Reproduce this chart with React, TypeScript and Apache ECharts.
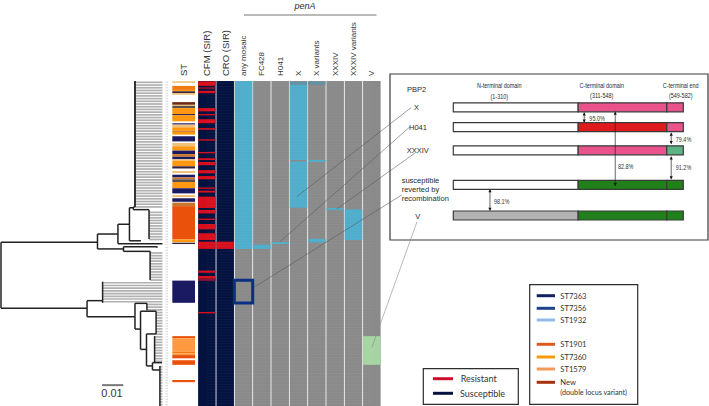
import React, { useEffect, useRef } from "react";
import * as echarts from "echarts";

const SANS = '"Liberation Sans", Arial, sans-serif';
const ROWS = 120;

// ---- Tree (distance, row)
const treeBranches = [
  [0, 0.0453, 59.5], [0, 0.0404, 83.9], [0.0453, 0.0549, 56.5], [0.0453, 0.0575, 62],
  [0.0549, 0.0603, 52.9], [0.0549, 0.0758, 60.1], [0.0603, 0.0657, 59], [0.0603, 0.0621, 46.8],
  [0.0621, 0.0629, 46.5], [0.0621, 0.0695, 47.5], [0.0575, 0.0732, 61.2], [0.0575, 0.07, 62.9],
  [0.0404, 0.0477, 81.1], [0.0404, 0.0629, 87], [0.0629, 0.0685, 82.1], [0.0629, 0.0655, 91.6],
  [0.0655, 0.0728, 85], [0.0655, 0.0683, 99.1], [0.0683, 0.0728, 93.4], [0.0683, 0.0711, 105.2],
  [0.0711, 0.0756, 104], [0.0711, 0.0746, 106.7],
];
const treeNodes = [
  [0, 59.5, 83.9], [0.0453, 56.5, 62], [0.0404, 81.1, 87], [0.0549, 52.9, 60.1],
  [0.0603, 46.8, 59], [0.0621, 46.5, 47.5], [0.0695, 47.5, 58.3], [0.0575, 61.2, 62.9],
  [0.07, 62.9, 73.5], [0.0732, 61, 61.6], [0.0477, 74.1, 81.9], [0.0629, 87, 91.6],
  [0.0629, 82.1, 87], [0.0685, 82.1, 84.6], [0.0655, 85, 99.1], [0.0728, 85, 93.4],
  [0.0683, 93.4, 105.2], [0.0721, 94.2, 104], [0.0711, 104, 106.7], [0.0746, 105.2, 120],
];
const treeTrunk = [[0.0629, 0, 46.5]];
const tipClades = [
  [0.0629, 0, 46], [0.0695, 48, 58], [0.07, 63, 73], [0.0477, 74, 81], [0.0685, 82, 84],
  [0.0728, 85, 93], [0.0721, 94, 103], [0.0746, 105, 119],
];
const scaleBar = [[0.0474, 0.0574, 112.3]];

// ---- ST column
const stColors: Record<string, string> = {
  tan: "#eec27c", orange: "#ff9810", orangeDeep: "#f27a12", navy: "#1a1a62", dark: "#3a2238",
  brown: "#6b2a14", st1901: "#ea510b", st1579: "#ff9a42", mix: "#c7762e", grey: "#5b4f4f",
};
const stBands: [number, number, string][] = [
  [0.1, 0.7, "tan"], [1.8, 3.3, "orangeDeep"], [3.3, 3.8, "orange"], [3.8, 4.5, "dark"], [4.5, 5.1, "tan"],
  [7.8, 8.8, "brown"], [8.8, 9.2, "tan"], [9.2, 10, "grey"], [10, 12.2, "orange"], [12.2, 12.7, "dark"],
  [12.7, 14.9, "orange"], [15.6, 16.1, "navy"], [16.1, 17.1, "tan"], [17.1, 18.4, "orange"], [18.4, 18.8, "mix"],
  [18.8, 19.8, "orange"], [20.4, 22.3, "navy"], [22.9, 24.1, "tan"], [24.1, 25.7, "orange"], [25.7, 27, "navy"],
  [27, 28, "mix"], [28, 28.9, "navy"], [28.9, 29.4, "tan"], [29.4, 31.5, "orange"], [31.5, 32.3, "dark"],
  [33.2, 34, "tan"], [34.6, 35.6, "navy"], [35.6, 36.3, "mix"], [36.3, 37.3, "grey"], [37.3, 39.6, "orange"],
  [39.6, 41.5, "navy"], [42.1, 42.9, "tan"], [43.3, 44.6, "navy"], [44.9, 46.2, "mix"], [46.2, 58.5, "st1901"],
  [58.5, 59.5, "orange"], [59.7, 60.2, "dark"], [73.7, 81.9, "navy"], [94.2, 95, "st1901"], [95, 100, "st1579"],
  [100, 100.6, "orangeDeep"], [100.6, 101.2, "st1579"], [101.2, 102.4, "st1901"], [103.1, 104.8, "st1901"],
  [110.4, 111.2, "st1901"],
];

// ---- Resistance / penA columns
const columnNames = ["CFM (SIR)", "CRO (SIR)", "any mosaic", "FC428", "H041", "X", "X variants", "XXXIV", "XXXIV variants", "V"];
const cfmResistant = [
  [0.1, 1.8], [2.4, 2.8], [3.6, 4.5], [10, 11.2], [12.2, 12.7], [14.1, 15.6], [17.4, 18], [21.5, 22], [26.2, 26.7],
  [28.5, 29.2], [29.9, 31.1], [32.9, 34.1], [35.1, 36.3], [39.3, 39.8], [40.5, 41.2], [42.7, 46.9], [47.6, 48.9],
  [50.8, 51.3], [52.8, 54.8], [56.2, 58.7], [59.3, 62], [70, 70.8], [72, 73], [85.3, 85.8],
];
const cfmIntermediate = [[73, 73.8]];
const croResistant = [[59.3, 62]];
const anyMosaic = [[0, 62]];
const fc428 = [[60.4, 62]];
const h041 = [[59.5, 60.2]];
const penAX = [[1.3, 29.2], [29.7, 46.8]];
const penAXVariants = [[29.2, 29.9], [58.3, 59.6]];
const penAXFaint = [[0.3, 1.3]];
const xxxiv = [[46.9, 47.6]];
const xxxivVariants = [[47.4, 58.7]];
const penAV = [[94.2, 104.8]];
const highlightedRows = [[2, 73.6, 82]];

// ---- PBP2 schematic
const domainNames = ["N-terminal domain", "C-terminal domain", "C-terminal end"];
const domainRanges = ["(1-310)", "(311-548)", "(549-582)"];
const domainEdges = [0, 310, 530, 571];
const pbp2Tracks = [0, 0.99, 2.145, 3.87, 5.4];
const pbp2Colors = [
  ["#ffffff", "#e9528b", "#e9528b"],
  ["#ffffff", "#e01a1c", "#e9528b"],
  ["#ffffff", "#e9528b", "#5fb283"],
  ["#ffffff", "#21801a", "#21801a"],
  ["#b2b2b2", "#21801a", "#21801a"],
];
const identities = [
  { text: "95.0%", x: 325, from: 0.26, to: 0.76, labelX: 357, labelY: 0.53 },
  { text: "82.8%", x: 402, from: 0.22, to: 3.93, labelX: 428, labelY: 2.96 },
  { text: "79.4%", x: 541, from: 1.27, to: 1.83, labelX: 571.5, labelY: 1.6 },
  { text: "91.2%", x: 541, from: 2.46, to: 3.59, labelX: 571.5, labelY: 3.01 },
  { text: "98.1%", x: 91, from: 4.09, to: 5.16, labelX: 120, labelY: 4.68 },
];

// ---- Legends
const stLegendNames = ["ST7363", "ST7356", "ST1932", "ST1901", "ST7360", "ST1579", "New"];
const stLegendColors = ["#14225e", "#1f4288", "#92bbe8", "#e05a1f", "#f59a10", "#f49a58", "#a8320f"];
const sirLegendNames = ["Resistant", "Susceptible"];
const sirLegendColors = ["#c8102e", "#03123f"];

const COL_GREY = "#8a8a8a";
const COL_NAVY = "#03123f";
const COL_BLUE = "#4eaecb";
const COL_RED = "#d80f1c";

const spans = (col: number, list: number[][], color: string) =>
  list.map((s) => ({ value: [col, s[0], s[1]], color }));

const heatCells = [
  ...columnNames.map((_, i) => ({ value: [i, 0, ROWS], color: i < 2 ? COL_NAVY : COL_GREY })),
  ...spans(0, cfmResistant, COL_RED),
  ...spans(0, cfmIntermediate, "#8d1030"),
  ...spans(1, croResistant, COL_RED),
  ...spans(2, anyMosaic, COL_BLUE),
  ...spans(3, fc428, COL_BLUE),
  ...spans(4, h041, COL_BLUE),
  ...spans(5, penAX, COL_BLUE),
  ...spans(5, penAXFaint, "#5e92a6"),
  ...spans(6, penAXFaint, "#5e92a6"),
  ...spans(6, penAXVariants, COL_BLUE),
  ...spans(7, xxxiv, COL_BLUE),
  ...spans(8, xxxivVariants, COL_BLUE),
  ...spans(9, penAV, "#a6d5a3"),
];

function buildOption(): any {
  const rowIdx = Array.from({ length: ROWS }, (_, i) => i);
  const tips: number[][] = [];
  tipClades.forEach(([d, a, b]) => {
    for (let r = a; r <= b; r++) tips.push([d, r + 0.5]);
  });

  const lineItem = (api: any, p0: number[], p1: number[], stroke: string, lineWidth: number, extra: any = {}) => {
    const a = api.coord(p0);
    const b = api.coord(p1);
    return { type: "line", shape: { x1: a[0], y1: a[1], x2: b[0], y2: b[1] }, style: { stroke, lineWidth, ...extra } };
  };

  const bandRect = (api: any, gap: number) => {
    const band = api.size([1, 0])[0];
    const a = api.coord([api.value(0), api.value(1)]);
    const b = api.coord([api.value(0), api.value(2)]);
    return { x: a[0] - band / 2 + gap / 2, y: a[1], width: band - gap, height: b[1] - a[1] };
  };

  const g: any[] = [];
  const txt = (text: string, x: number, y: number, size: number, align = "center", extra: any = {}, scaleX = 1) =>
    g.push({
      type: "text", x, y, z: 120, scaleX,
      style: { text, fill: "#2a2a2a", fontSize: size, fontFamily: SANS, textAlign: align, textVerticalAlign: "middle", ...extra },
    });
  const ln = (x1: number, y1: number, x2: number, y2: number, stroke: string, lineWidth: number) =>
    g.push({ type: "line", z: 110, shape: { x1, y1, x2, y2 }, style: { stroke, lineWidth } });
  const box = (x: number, y: number, width: number, height: number) =>
    g.push({ type: "rect", z: 100, shape: { x, y, width, height }, style: { fill: "#fff", stroke: "#2d2d2d", lineWidth: 1.2 } });

  // penA header
  txt("penA", 305, 6, 9, "center", { fontStyle: "italic" });
  ln(244, 15, 376.5, 15, "#777", 1.1);

  // panel
  g.push({ type: "rect", z: 1, shape: { x: 390, y: 74, width: 318, height: 166 }, style: { fill: "#fff", stroke: "#3a3a3a", lineWidth: 1.2 } });
  txt("PBP2", 416.7, 89, 7.5);
  txt("X", 416.5, 107.5, 7.5);
  txt("H041", 418, 127, 7.5);
  txt("XXXIV", 417.7, 150.5, 7.5);
  txt("susceptible", 401.7, 180.7, 7.5, "left");
  txt("reverted by", 401.7, 189.7, 7.5, "left");
  txt("recombination", 401.7, 198.7, 7.5, "left");
  txt("V", 417.7, 216, 7.5);
  [499.3, 601.7, 680.7].forEach((x, i) => {
    txt(domainNames[i], x, i === 0 ? 85.7 : 85, 7, "center", {}, 0.78);
    txt(domainRanges[i], x, i === 0 ? 96.7 : 95.3, 7, "center", {}, 0.78);
  });

  // leader lines
  ln(411, 107.7, 296.7, 196.7, "#5c5c5c", 0.6);
  ln(410, 126.7, 280, 241.7, "#5c5c5c", 0.6);
  ln(415, 153, 336.7, 209, "#5c5c5c", 0.6);
  ln(401.7, 195, 254, 287.3, "#5c5c5c", 0.6);
  ln(417, 221.7, 372, 347.3, "#8a8a8a", 0.6);

  // SIR legend
  box(423.3, 368.7, 95, 35.6);
  [378.7, 393.3].forEach((y, i) => {
    ln(433, y, 453, y, sirLegendColors[i], 3);
    txt(sirLegendNames[i], i === 0 ? 460.7 : 460, y, 9, "left", { fontFamily: "Lato, sans-serif", fill: "#333" });
  });

  // ST legend
  box(529.7, 284.7, 108, 119.6);
  [295.7, 308.3, 320, 344.3, 357, 369, 382.3].forEach((y, i) => {
    ln(536.7, y, 555, y, stLegendColors[i], 3);
    txt(stLegendNames[i], 560.3, y, 7.6, "left", { fontFamily: "Lato, sans-serif", fill: "#333" });
  });
  txt("(double locus variant)", 560.3, 392.7, 7.2, "left", { fontFamily: "Lato, sans-serif", fill: "#333" });

  // scale label
  txt("0.01", 112, 393, 11, "center", { fill: "#333" });

  const labelStyle = (size: number) => ({ textStyle: { fontSize: size, color: "#333", fontFamily: SANS } });

  return {
    animation: false,
    backgroundColor: "#fff",
    graphic: { elements: g },
    grid: [
      { left: 1, width: 167, top: 81, height: 325 },
      { left: 172.3, width: 22.7, top: 81, height: 325 },
      { left: 197.7, width: 183.3, top: 81, height: 325 },
      { left: 453.3, width: 230, top: 107.3, height: 108.2 },
    ],
    xAxis: [
      { gridIndex: 0, type: "value", min: 0, max: 0.0784, show: false },
      {
        gridIndex: 1, type: "category", position: "top", data: [{ value: "ST", ...labelStyle(9.5) }],
        axisLine: { show: false }, axisTick: { show: false },
        axisLabel: { rotate: 90, margin: 5, interval: 0, fontFamily: SANS, color: "#333" },
      },
      {
        gridIndex: 2, type: "category", position: "top",
        data: columnNames.map((n, i) => ({ value: n, ...labelStyle(i < 2 ? 9.5 : 8) })),
        axisLine: { show: false }, axisTick: { show: false },
        axisLabel: { rotate: 90, margin: 5, interval: 0, fontFamily: SANS, color: "#333" },
      },
      { gridIndex: 3, type: "value", min: 0, max: 571, show: false },
    ],
    yAxis: [
      { gridIndex: 0, type: "value", min: 0, max: ROWS, inverse: true, show: false },
      { gridIndex: 1, type: "value", min: 0, max: ROWS, inverse: true, show: false },
      { gridIndex: 2, type: "value", min: 0, max: ROWS, inverse: true, show: false },
      { gridIndex: 3, type: "value", min: 0, max: 5.4, inverse: true, show: false },
    ],
    series: [
      // tips
      {
        type: "custom", xAxisIndex: 0, yAxisIndex: 0, data: tips, encode: { x: 0, y: 1 }, z: 1,
        renderItem: (_: any, api: any) => lineItem(api, [api.value(0), api.value(1)], [0.0758, api.value(1)], "#b0b0b0", 1.7),
      },
      // faint tip label column
      {
        type: "custom", xAxisIndex: 0, yAxisIndex: 0, data: rowIdx.map((r) => [r + 0.5]), encode: { y: 0 }, z: 1,
        renderItem: (_: any, api: any) =>
          lineItem(api, [0.0772, api.value(0)], [0.0784, api.value(0)], "#dedede", 1.3),
      },
      // tree
      {
        type: "custom", xAxisIndex: 0, yAxisIndex: 0, data: treeBranches, encode: { x: [0, 1], y: 2 }, z: 3,
        renderItem: (_: any, api: any) => lineItem(api, [api.value(0), api.value(2)], [api.value(1), api.value(2)], "#222", 1.5),
      },
      {
        type: "custom", xAxisIndex: 0, yAxisIndex: 0, data: treeNodes, encode: { x: 0, y: [1, 2] }, z: 3,
        renderItem: (_: any, api: any) => lineItem(api, [api.value(0), api.value(1)], [api.value(0), api.value(2)], "#222", 1.5),
      },
      {
        type: "custom", xAxisIndex: 0, yAxisIndex: 0, data: treeTrunk, encode: { x: 0, y: [1, 2] }, z: 3,
        renderItem: (_: any, api: any) => lineItem(api, [api.value(0), api.value(1)], [api.value(0), api.value(2)], "#333", 2),
      },
      {
        type: "custom", xAxisIndex: 0, yAxisIndex: 0, data: scaleBar, encode: { x: [0, 1], y: 2 }, z: 3,
        renderItem: (_: any, api: any) => lineItem(api, [api.value(0), api.value(2)], [api.value(1), api.value(2)], "#777", 2),
      },
      // ST bands
      {
        type: "custom", xAxisIndex: 1, yAxisIndex: 1, z: 2,
        data: stBands.map((b) => ({ value: [0, b[0], b[1]], color: stColors[b[2]] })),
        encode: { x: 0, y: [1, 2] },
        renderItem: (p: any, api: any) => ({
          type: "rect", shape: bandRect(api, 0),
          style: { fill: stColors[stBands[p.dataIndex][2]] },
        }),
      },
      // heat cells
      {
        type: "custom", xAxisIndex: 2, yAxisIndex: 2, z: 2, data: heatCells.map((c) => c.value),
        encode: { x: 0, y: [1, 2] },
        renderItem: (p: any, api: any) => ({
          type: "rect", shape: bandRect(api, 0.8), style: { fill: heatCells[p.dataIndex].color },
        }),
      },
      // faint row lines over heat map
      {
        type: "custom", xAxisIndex: 2, yAxisIndex: 2, z: 4, data: rowIdx.map((r) => [0, r]), encode: { x: 0, y: 1 },
        renderItem: (_: any, api: any) =>
          lineItem(api, [0, api.value(1)], [9, api.value(1)], "rgba(255,255,255,0.05)", 0.8),
      },
      // highlighted box
      {
        type: "custom", xAxisIndex: 2, yAxisIndex: 2, z: 5, data: highlightedRows, encode: { x: 0, y: [1, 2] },
        renderItem: (_: any, api: any) => ({
          type: "rect", shape: bandRect(api, 0), style: { fill: "none", stroke: "#0b2f85", lineWidth: 3 },
        }),
      },
      // PBP2 bars
      {
        type: "custom", xAxisIndex: 3, yAxisIndex: 3, z: 6,
        data: pbp2Tracks.flatMap((t, i) => [0, 1, 2].map((d) => [t, domainEdges[d], domainEdges[d + 1], i, d])),
        encode: { x: [1, 2], y: 0 },
        renderItem: (_: any, api: any) => {
          const a = api.coord([api.value(1), api.value(0)]);
          const b = api.coord([api.value(2), api.value(0)]);
          return {
            type: "rect",
            shape: { x: a[0], y: a[1] - 4.5, width: b[0] - a[0], height: 9 },
            style: { fill: pbp2Colors[api.value(3)][api.value(4)], stroke: "#3a3a3a", lineWidth: 1.2 },
          };
        },
      },
      // identity arrows
      {
        type: "custom", xAxisIndex: 3, yAxisIndex: 3, z: 7,
        data: identities.map((d) => [d.x, d.from, d.to, d.labelX, d.labelY]),
        encode: { x: 0, y: [1, 2] },
        renderItem: (p: any, api: any) => {
          const a = api.coord([api.value(0), api.value(1)]);
          const b = api.coord([api.value(0), api.value(2)]);
          const l = api.coord([api.value(3), api.value(4)]);
          const head = (x: number, y: number, dir: number) => ({
            type: "polygon",
            shape: { points: [[x, y], [x - 1.6, y + dir * 3], [x + 1.6, y + dir * 3]] },
            style: { fill: "#111" },
          });
          return {
            type: "group",
            children: [
              { type: "line", shape: { x1: a[0], y1: a[1], x2: b[0], y2: b[1] }, style: { stroke: "#222", lineWidth: 0.7 } },
              head(a[0], a[1], 1),
              head(b[0], b[1], -1),
              {
                type: "text", x: l[0], y: l[1], scaleX: 0.78,
                style: { text: identities[p.dataIndex].text, fontSize: 7, fontFamily: SANS, fill: "#333", textAlign: "center", textVerticalAlign: "middle" },
              },
            ],
          };
        },
      },
    ],
  };
}

export default function App() {
  const ref = useRef<HTMLDivElement>(null);
  useEffect(() => {
    const chart = echarts.init(ref.current!, undefined, { renderer: "svg" });
    chart.setOption(buildOption());
    return () => chart.dispose();
  }, []);
  return <div ref={ref} style={{ position: "fixed", left: 0, top: 0, width: 709, height: 406 }} />;
}
